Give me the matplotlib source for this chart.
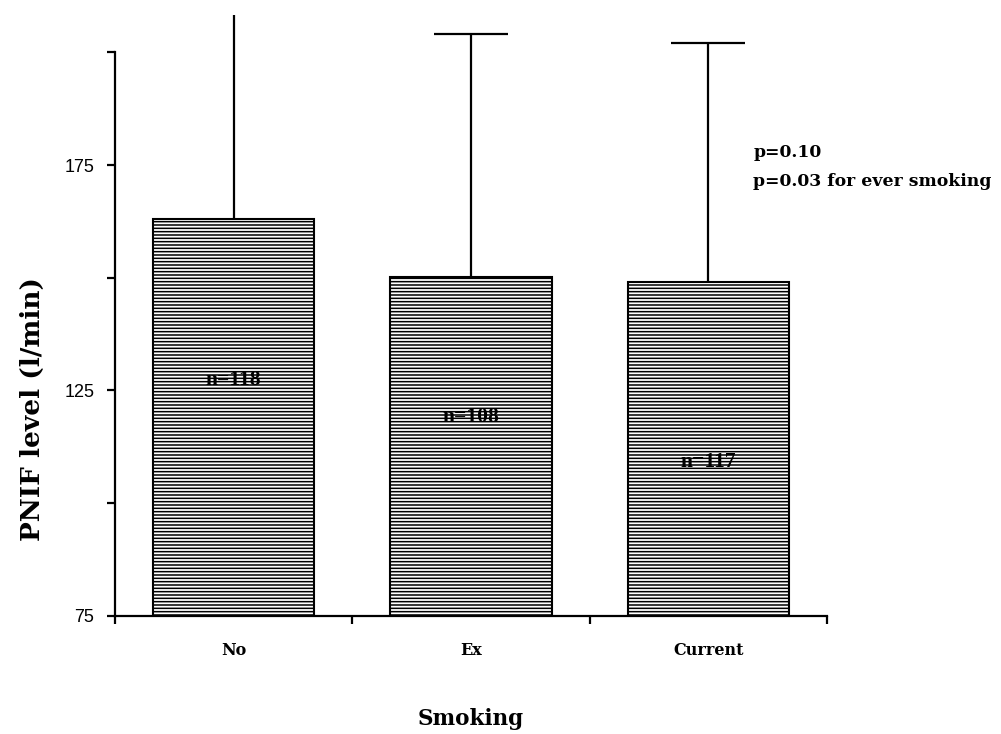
import numpy as np
import matplotlib
matplotlib.use("Agg")
import matplotlib.pyplot as plt

# values
groups = ["No", "Ex", "Current"]
means = [163.0, 150.1, 149.0]
upper = [208.3, 204.1, 202.1]
n_labels = ["n=118", "n=108", "n=117"]
n_label_y = [127.4, 119.2, 109.2]
has_cap = [False, True, True]
yticks = [75, 100, 125, 150, 175, 200]
yticklabels = ["75", "", "125", "", "175", ""]

serif = "DejaVu Serif"
times = "Liberation Serif"
sans = "Liberation Sans"
plt.rcParams["hatch.linewidth"] = 1.1

fig = plt.figure(figsize=(10.01, 7.34), dpi=100)
ax = fig.add_axes([0.1149, 0.161, 0.7111, 0.7675])

x = np.arange(len(groups))
ax.bar(x, np.array(means) - 75, bottom=75, width=0.68, color="white",
       edgecolor="black", linewidth=1.5, hatch="-----")

# upper whiskers only
ax.vlines(x, means, upper, color="black", linewidth=1.6, clip_on=False)
for xi, top, cap in zip(x, upper, has_cap):
    if cap:
        ax.hlines(top, xi - 0.155, xi + 0.155, color="black", linewidth=1.6, clip_on=False)

for xi, lab, ly in zip(x, n_labels, n_label_y):
    ax.text(xi, ly, lab, ha="center", va="center", fontsize=15.5,
            fontfamily=times, fontweight="bold")

ax.text(2.19, 174.6, "p=0.10\np=0.03 for ever smoking", ha="left", va="center",
        fontsize=12.4, fontfamily=serif, fontweight="bold", linespacing=1.9)

ax.set_xlim(-0.5, 2.5)
ax.set_ylim(75, 200)
ax.spines["top"].set_visible(False)
ax.spines["right"].set_visible(False)
ax.spines["left"].set_linewidth(1.6)
ax.spines["bottom"].set_linewidth(1.6)

ax.set_yticks(yticks)
ax.set_yticklabels(yticklabels, fontfamily=sans, fontsize=13)
ax.tick_params(axis="y", direction="out", length=6, width=1.6, pad=9)

ax.set_xticks(x)
ax.set_xticklabels(groups, fontfamily=serif, fontweight="bold", fontsize=11.5)
ax.tick_params(axis="x", which="major", length=0, pad=19)
ax.set_xticks([-0.5, 0.5, 1.5, 2.5], minor=True)
ax.tick_params(axis="x", which="minor", direction="out", length=6, width=1.6)

ax.set_xlabel("Smoking", fontfamily=serif, fontweight="bold", fontsize=15.5)
ax.xaxis.set_label_coords(0.5, -0.163)
ax.set_ylabel("PNIF level (l/min)", fontfamily=serif, fontweight="bold", fontsize=19)
ax.yaxis.set_label_coords(-0.098, 0.367)

fig.savefig("out.png", dpi=100, facecolor="white")
